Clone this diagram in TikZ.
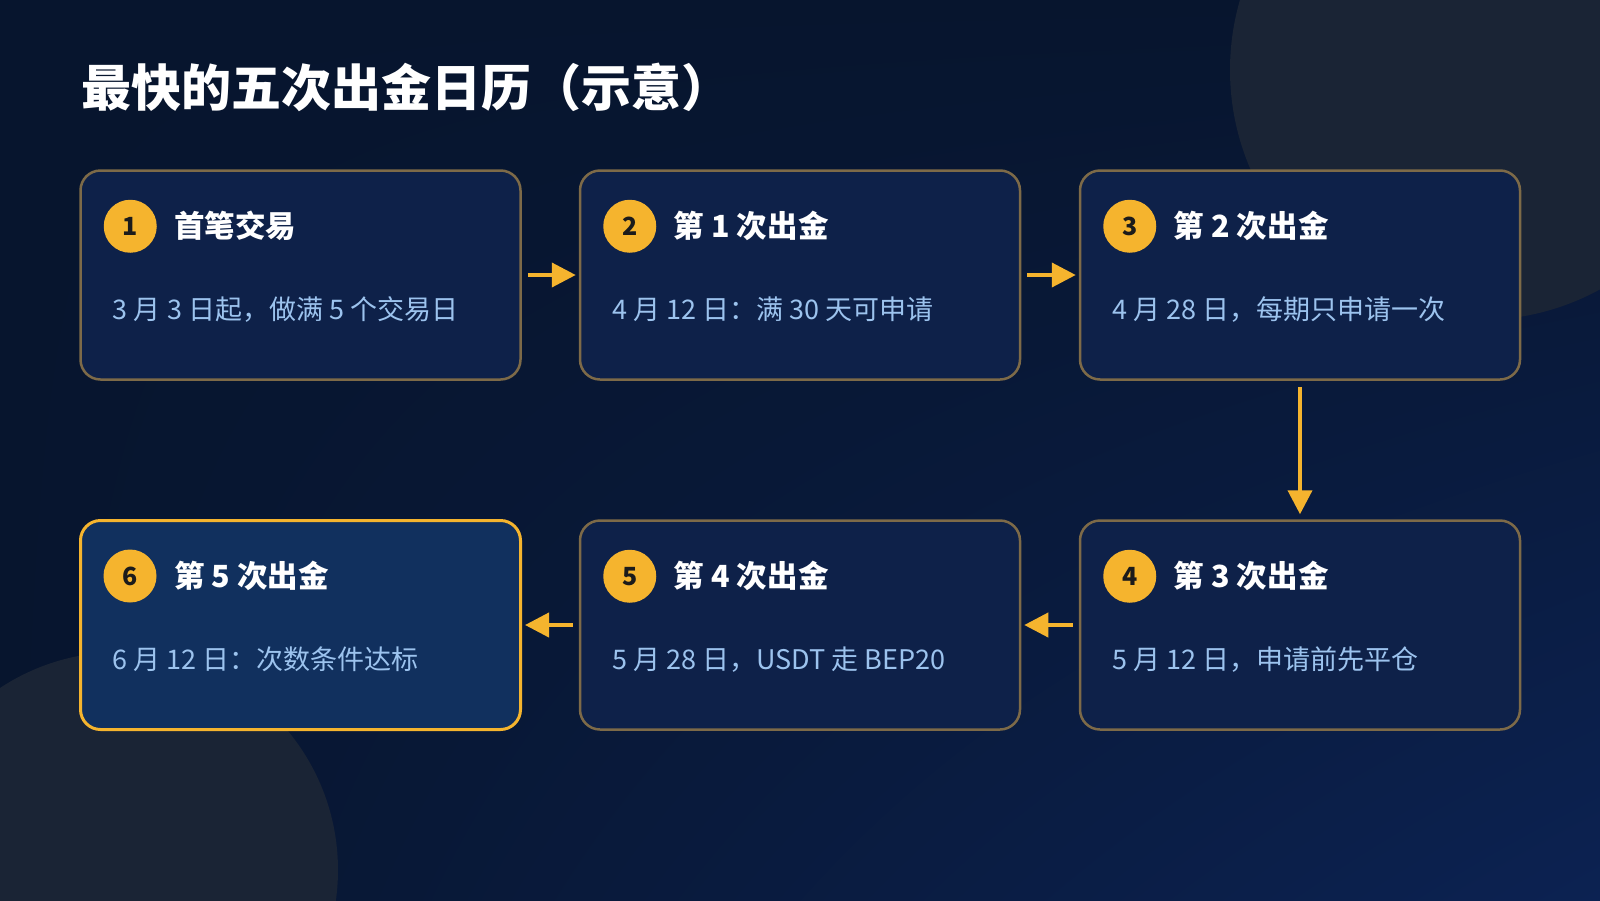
\documentclass[tikz,border=0pt]{standalone}
\usepackage{fontspec}
\setmainfont{Noto Sans CJK SC}
\usetikzlibrary{arrows.meta,positioning,shadings}
\definecolor{bgtop}{HTML}{07152E}
\definecolor{bgbot}{HTML}{0C2252}
\definecolor{blob}{HTML}{1A2435}
\definecolor{cardfill}{HTML}{0E2149}
\definecolor{cardhi}{HTML}{11305E}
\definecolor{cardline}{HTML}{7D6A48}
\definecolor{gold}{HTML}{F5B42E}
\definecolor{bodytext}{HTML}{9CC3EE}
\definecolor{badgetext}{HTML}{1B1B1B}
\tikzset{
  card/.style={draw=cardline, line width=2.5pt, fill=cardfill, rounded corners=20pt,
    minimum width=440pt, minimum height=209pt, inner sep=0pt},
  cardhl/.style={card, draw=gold, line width=3pt, fill=cardhi},
  badge/.style={circle, fill=gold, minimum size=53pt, inner sep=0pt,
    font=\fontsize{25}{25}\selectfont\bfseries, text=badgetext},
  cardtitle/.style={anchor=west, text=white, inner sep=0pt,
    font=\fontsize{30.5}{30.5}\selectfont\bfseries},
  cardtext/.style={anchor=west, text=bodytext, inner sep=0pt,
    font=\fontsize{27}{27}\selectfont},
  flow/.style={draw=gold, line width=4pt, -{Triangle[length=24pt,width=24pt]}}
}
\begin{document}
\begin{tikzpicture}[x=1pt,y=-1pt]
        \useasboundingbox (0,0) rectangle (1600,900);
        \clip (0,0) rectangle (1600,900);
        % background
        \shade[upper left=bgtop, upper right=bgtop, lower left=bgtop, lower right=bgbot] (0,0) rectangle (1600,900);
        \fill[blob] (1480,70) circle[radius=250pt];
        \fill[blob] (120,870) circle[radius=218pt];
        \node[anchor=west, text=white, inner sep=0pt, font=\fontsize{50}{50}\selectfont\bfseries] (title) at (81,87) {最快的五次出金日历（示意）};
        % cards
        \node[card] (c1) at (300.5,275) {};
        \node[card] (c2) at (800,275) {};
        \node[card] (c3) at (1300,275) {};
        \node[card] (c4) at (1300,625) {};
        \node[card] (c5) at (800,625) {};
        \node[cardhl] (c6) at (300.5,625) {};
        \foreach \c/\n/\t/\d in {c1/1/首笔交易/{3 月 3 日起，做满 5 个交易日},
                                 c2/2/第 1 次出金/{4 月 12 日：满 30 天可申请},
                                 c3/3/第 2 次出金/{4 月 28 日，每期只申请一次},
                                 c4/4/第 3 次出金/{5 月 12 日，申请前先平仓},
                                 c5/5/第 4 次出金/{5 月 28 日，USDT 走 BEP20},
                                 c6/6/第 5 次出金/{6 月 12 日：次数条件达标}} {
            \node[badge] (\c-n) at ([xshift=51pt,yshift=-57pt]\c.north west) {\n};
            \node[cardtitle] (\c-t) at ([xshift=44pt]\c-n.center) {\t};
            \node[cardtext] (\c-d) at ([xshift=33.5pt,yshift=-140pt]\c.north west) {\d};
        }
        % arrows
        \draw[flow] ([xshift=6pt]c1.east) -- ([xshift=-3pt]c2.west);
        \draw[flow] ([xshift=6pt]c2.east) -- ([xshift=-3pt]c3.west);
        \draw[flow] ([yshift=-6pt]c3.south) -- ([yshift=5pt]c4.north);
        \draw[flow] ([xshift=-6pt]c4.west) -- ([xshift=3pt]c5.east);
        \draw[flow] ([xshift=-6pt]c5.west) -- ([xshift=3pt]c6.east);
    \end{tikzpicture}
\end{document}
